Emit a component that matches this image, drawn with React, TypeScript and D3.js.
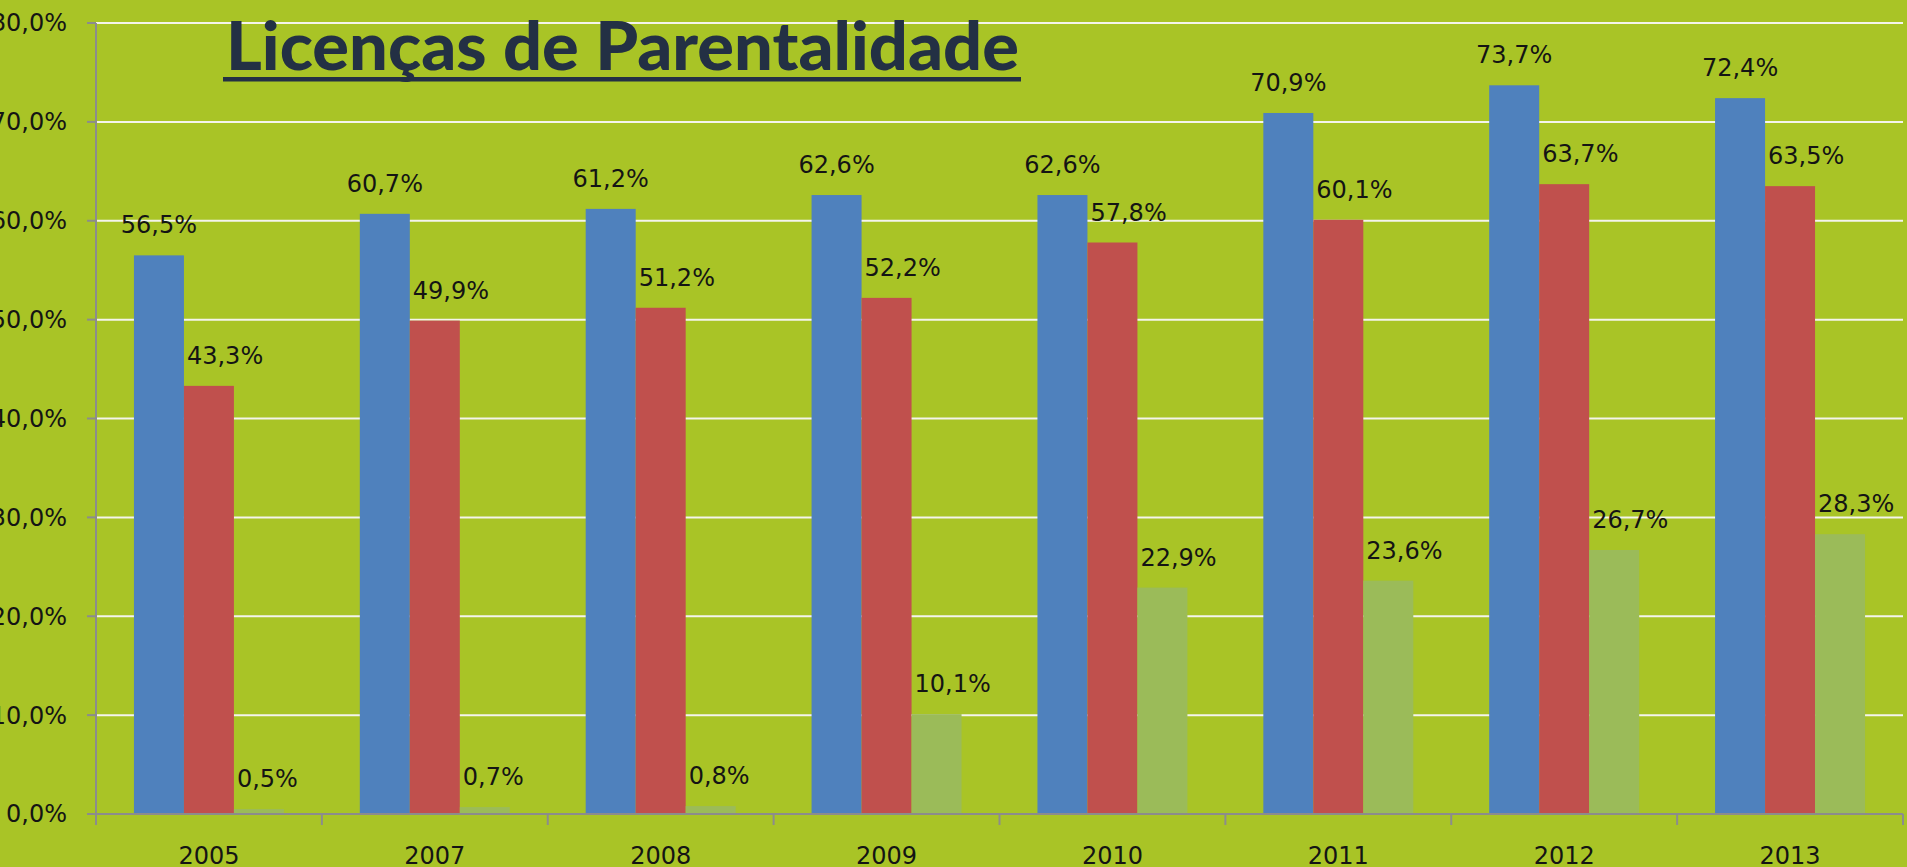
import React from "react";
import * as d3 from "d3";

const years = ["2005", "2007", "2008", "2009", "2010", "2011", "2012", "2013"];
const seriesNames = ["s1", "s2", "s3"];
const blueValues = [56.5, 60.7, 61.2, 62.6, 62.6, 70.9, 73.7, 72.4];
const redValues = [43.3, 49.9, 51.2, 52.2, 57.8, 60.1, 63.7, 63.5];
const greenValues = [0.5, 0.7, 0.8, 10.1, 22.9, 23.6, 26.7, 28.3];
const yTicks = [0, 10, 20, 30, 40, 50, 60, 70, 80];
const title = "Licenças de Parentalidade";

const W = 1907;
const H = 867;
const colors = ["#4F81BD", "#C0504D", "#9BBB59"];
const bg = "#A9C426";

const fmt = (v: number) => v.toFixed(1).replace(".", ",") + "%";

export default function App() {
  const left = 96;
  const right = 1903;
  const top = 23;
  const bottom = 814;
  const x0 = d3.scaleBand<string>().domain(years).range([left, right]).padding(0);
  const bw = x0.bandwidth();
  const x1 = d3
    .scaleBand<string>()
    .domain(seriesNames)
    .range([bw * 0.168, bw * 0.832])
    .padding(0);
  const y = d3.scaleLinear().domain([0, 80]).range([bottom, top]);
  const allSeries = [blueValues, redValues, greenValues];
  const font = "'DejaVu Sans', Verdana, sans-serif";

  return (
    <svg
      width={W}
      height={H}
      style={{ position: "absolute", left: 0, top: 0, display: "block" }}
    >
      <rect x={0} y={0} width={W} height={H} fill={bg} />
      {yTicks.map((t) => (
        <g key={t}>
          {t > 0 && (
            <line x1={left} x2={right} y1={y(t)} y2={y(t)} stroke="#F4F4EC" strokeWidth={2} />
          )}
          <line x1={left - 9} x2={left} y1={y(t)} y2={y(t)} stroke="#8C8C8C" strokeWidth={2} />
          <text
            x={67}
            y={y(t)}
            dy="0.35em"
            textAnchor="end"
            fontFamily={font}
            fontSize={24}
            fill="#141414"
          >
            {t.toFixed(1).replace(".", ",") + "%"}
          </text>
        </g>
      ))}
      {years.map((yr, i) => (
        <g key={yr} transform={`translate(${x0(yr)},0)`}>
          {allSeries.map((vals, s) => {
            const bx = x1(seriesNames[s])!;
            const bwid = x1.bandwidth();
            const v = vals[i];
            const by = y(v);
            return (
              <g key={s}>
                <rect x={bx} y={by} width={bwid} height={bottom - by} fill={colors[s]} />
                <text
                  x={s === 0 ? bx + bwid / 2 : bx + 3}
                  y={by - 22}
                  textAnchor={s === 0 ? "middle" : "start"}
                  fontFamily={font}
                  fontSize={24}
                  fill="#141414"
                >
                  {fmt(v)}
                </text>
              </g>
            );
          })}
          <text
            x={bw / 2}
            y={864}
            textAnchor="middle"
            fontFamily={font}
            fontSize={24}
            fill="#141414"
          >
            {yr}
          </text>
        </g>
      ))}
      <line x1={left} x2={left} y1={top} y2={bottom} stroke="#8C8C8C" strokeWidth={2} />
      <line x1={left} x2={right} y1={bottom} y2={bottom} stroke="#8C8C8C" strokeWidth={2} />
      {years.map((yr) => (
        <line
          key={"t" + yr}
          x1={x0(yr)}
          x2={x0(yr)}
          y1={bottom}
          y2={bottom + 11}
          stroke="#8C8C8C"
          strokeWidth={2}
        />
      ))}
      <line x1={right} x2={right} y1={bottom} y2={bottom + 11} stroke="#8C8C8C" strokeWidth={2} />
      <text
        x={226}
        y={70}
        fontFamily="Lato, 'Open Sans', sans-serif"
        fontWeight={900}
        fontSize={67}
        fill="#233044"
        textLength={793}
        lengthAdjust="spacingAndGlyphs"
      >
        {title}
      </text>
      <rect x={223} y={77} width={798} height={4.5} fill="#233044" />
    </svg>
  );
}
